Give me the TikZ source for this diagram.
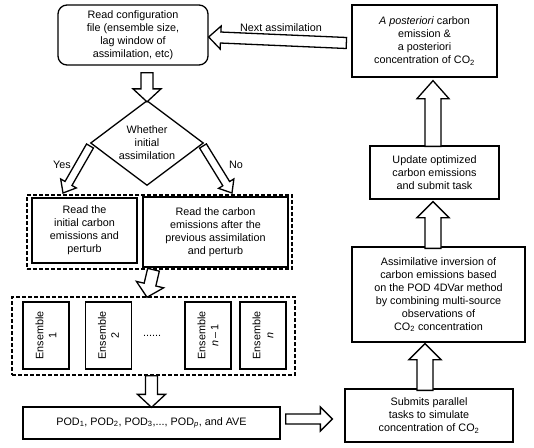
\documentclass[tikz,border=0pt]{standalone}
\usepackage{fontspec}
\setmainfont{Liberation Sans}
\usetikzlibrary{shapes.geometric,calc}
\tikzset{
  txt/.style={font=\fontsize{10.8}{13}\selectfont, align=center},
  box/.style={txt, draw, line width=1.3pt, inner sep=0pt},
  thickbox/.style={box, line width=2pt},
  grp/.style={draw, line width=1.5pt, dash pattern=on 4pt off 2pt},
  ens/.style={box, rotate=90, minimum width=67pt, minimum height=46pt},
  blk/.style={draw, line width=1.3pt, line join=miter, fill=white},
}
\newcommand{\blockarr}[5]{%
  \path[blk] let \p1=#1, \p2=#2, \n1={atan2(\y2-\y1,\x2-\x1)}, \n2={veclen(\x2-\x1,\y2-\y1)} in
   [shift={(\p1)}, rotate=\n1] (0,-#3) -- ({\n2-#5},-#3) -- ({\n2-#5},-#4) -- (\n2,0) -- ({\n2-#5},#4) -- ({\n2-#5},#3) -- (0,#3) -- cycle;}
\begin{document}
\begin{tikzpicture}[x=1pt, y=-1pt]
\useasboundingbox (0,0) rectangle (534,447);
% left column
\node[box, rounded corners=9pt, minimum width=150pt, minimum height=60pt] (config) at (133,35)
  {Read configuration\\file (ensemble size,\\lag window of\\assimilation, etc)};
\node[txt, draw, line width=1.3pt, diamond, aspect=1.33, inner sep=0pt, minimum width=113pt, minimum height=85pt] (dia) at (147,143)
  {Whether\\initial\\assimilation};
\node[txt] (yes) at (62,165) {Yes};
\node[txt] (no) at (236,165) {No};
\node[grp, minimum width=265pt, minimum height=74pt] (g1) at (159.5,232) {};
\node[thickbox, minimum width=105pt, minimum height=65pt] (r1) at (84.5,230.5)
  {Read the\\initial carbon\\emissions and\\perturb};
\node[thickbox, minimum width=145pt, minimum height=70pt] (r2) at (215.5,232)
  {Read the carbon\\emissions after the\\previous assimilation\\and perturb};
\node[grp, minimum width=283pt, minimum height=78pt] (g2) at (153.5,336) {};
\node[ens] (e1) at (46,335.5) {Ensemble\\1};
\node[ens] (e2) at (108.5,335.5) {Ensemble\\2};
\node[txt] (dots) at (152,336) {......};
\node[ens] (e3) at (208,335.5) {Ensemble\\\textit{n}\,–\,1};
\node[ens] (e4) at (263,335.5) {Ensemble\\\textit{n}};
\node[box, minimum width=257pt, minimum height=32pt] (pod) at (151.5,423)
  {POD\textsubscript{1}, POD\textsubscript{2}, POD\textsubscript{3},..., POD\textsubscript{\textit{p}}, and AVE};
% right column
\node[box, minimum width=145pt, minimum height=72pt] (post) at (424.5,41)
  {\textit{A posteriori} carbon\\emission \&\\a posteriori\\concentration of CO\textsubscript{2}};
\node[box, minimum width=129pt, minimum height=53pt] (upd) at (434.5,172.5)
  {Update optimized\\carbon emissions\\and submit task};
\node[box, minimum width=173pt, minimum height=95pt] (asm) at (438.5,294.5)
  {Assimilative inversion of\\carbon emissions based\\on the POD 4DVar method\\by combining multi-source\\observations of\\CO\textsubscript{2} concentration};
\node[box, minimum width=168pt, minimum height=53pt] (sub) at (429,415.5)
  {Submits parallel\\tasks to simulate\\concentration of CO\textsubscript{2}};
\node[txt] (nextlbl) at (281,28) {Next assimilation};
% block arrows
\coordinate (pa) at ([xshift=5pt,yshift=4pt]pod.east);
\coordinate (pb) at ([xshift=-12pt]sub.west |- pa);
\blockarr{([xshift=-5pt,yshift=-2pt]post.west)}{([yshift=-2pt]config.east)}{5.5}{11.5}{12}
\blockarr{([yshift=-7pt]config.south -| dia.north)}{([yshift=-2pt]dia.north)}{6}{14}{13}
\blockarr{(90,146)}{(63,193)}{4}{9}{11}
\blockarr{(203,146)}{(232,193)}{4}{9}{11}
\blockarr{([xshift=-6pt]g1.south)}{([xshift=-6.5pt,yshift=-1pt]g2.north)}{6}{14}{13}
\blockarr{(g2.south -| pod.north)}{([yshift=-1pt]pod.north)}{6}{14}{13}
\blockarr{(pa)}{(pb)}{5}{12}{12}
\blockarr{([xshift=-4pt,yshift=-2pt]sub.north)}{([xshift=-13.5pt,yshift=-1pt]asm.south)}{8}{16}{16}
\blockarr{([xshift=-5.5pt,yshift=-2pt]asm.north)}{([xshift=-1.5pt,yshift=-2pt]upd.south)}{8}{16}{16}
\blockarr{([xshift=-1.5pt,yshift=-1pt]upd.north)}{([xshift=8.5pt,yshift=-3pt]post.south)}{8}{16}{18}
\end{tikzpicture}
\end{document}
